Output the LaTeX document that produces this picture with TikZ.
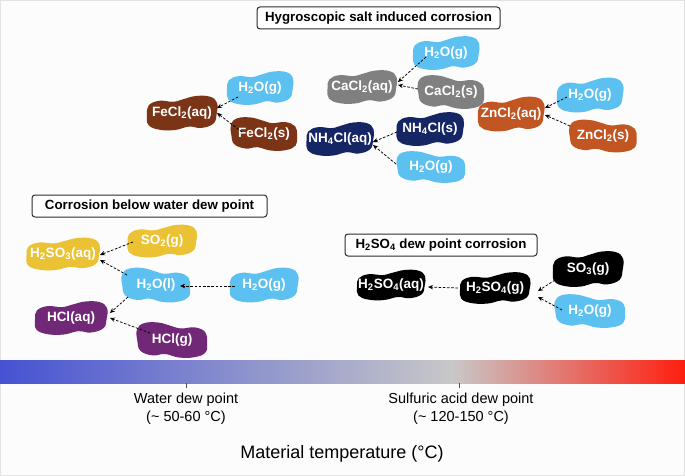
\documentclass[tikz,border=0pt]{standalone}
\usepackage{fontspec}
\setmainfont{Liberation Sans}
\usetikzlibrary{arrows.meta}
\definecolor{bgc}{RGB}{252,252,252}
\definecolor{framec}{RGB}{226,226,226}
\definecolor{cH}{RGB}{92,192,240}
\definecolor{cFe}{RGB}{124,52,22}
\definecolor{cCa}{RGB}{128,128,128}
\definecolor{cNh}{RGB}{22,38,100}
\definecolor{cZn}{RGB}{193,86,34}
\definecolor{cY}{RGB}{234,194,52}
\definecolor{cP}{RGB}{113,40,118}
\definecolor{gB}{RGB}{70,82,210}
\definecolor{gG}{RGB}{200,200,200}
\definecolor{gR}{RGB}{255,30,15}
\definecolor{boxc}{RGB}{45,45,45}
\newcommand\blobshape{plot[smooth cycle, tension=0.7] coordinates {(-1,0.1) (-0.95,-0.45) (-0.65,-0.72) (-0.25,-0.66) (0.05,-0.82) (0.4,-1.0) (0.8,-0.96) (1.0,-0.6) (0.99,0.05) (0.9,0.62) (0.55,0.88) (0.2,0.8) (-0.2,1.0) (-0.65,0.98) (-0.96,0.7)}}
\newcommand\blob[8][1]{%
  \fill[#7, shift={(#3,#4)}, xscale=#1*#5/2, yscale=#6/2] \blobshape;
  \node[blobtext, minimum width=#5, minimum height=#6] (#2) at (#3,#4) {#8};
}
\tikzset{
  blobtext/.style={text=white, font=\bfseries\fontsize{13.5}{15}\selectfont, inner sep=0pt},
  titlebox/.style={draw=boxc, line width=1pt, rounded corners=3pt, fill=white, font=\bfseries\fontsize{13.3}{15}\selectfont, inner xsep=6pt, minimum height=22},
  arr/.style={-{Stealth[length=5pt,width=4.4pt]}, dash pattern=on 2.6pt off 1.6pt, line width=0.75pt},
  ticklbl/.style={align=center, font=\fontsize{14.5}{18}\selectfont},
  axislbl/.style={font=\fontsize{18}{20}\selectfont}
}
\begin{document}
\begin{tikzpicture}[x=1pt,y=-1pt]
\useasboundingbox (0,0) rectangle (685,476);
\fill[bgc] (0,0) rectangle (685,476);
\draw[framec, line width=0.8pt] (0.5,0.5) rectangle (684.5,475.5);

% titles
\node[titlebox, minimum width=243] (t1) at (378.5,18) {Hygroscopic salt induced corrosion};
\node[titlebox, minimum width=235] (t2) at (149.5,206) {Corrosion below water dew point};
\node[titlebox, minimum width=192] (t3) at (441,245) {H\textsubscript{2}SO\textsubscript{4} dew point corrosion};

% hygroscopic salts
\blob{feaq}{182}{113}{70}{34}{cFe}{FeCl\textsubscript{2}(aq)}
\blob{h2oA}{260}{88}{66}{33}{cH}{H\textsubscript{2}O(g)}
\blob[-1]{fes}{264}{134}{66}{33}{cFe}{FeCl\textsubscript{2}(s)}
\blob{caaq}{362}{87}{69}{33}{cCa}{CaCl\textsubscript{2}(aq)}
\blob{h2oB}{446}{53}{66}{33}{cH}{H\textsubscript{2}O(g)}
\blob[-1]{cas}{451}{92}{66}{33}{cCa}{CaCl\textsubscript{2}(s)}
\blob{nhaq}{340}{139}{67}{33}{cNh}{NH\textsubscript{4}Cl(aq)}
\blob{nhs}{430}{129}{67}{33}{cNh}{NH\textsubscript{4}Cl(s)}
\blob[-1]{h2oC}{431}{167}{68}{31}{cH}{H\textsubscript{2}O(g)}
\blob{znaq}{511}{114}{66}{34}{cZn}{ZnCl\textsubscript{2}(aq)}
\blob{h2oD}{590}{95}{66}{34}{cH}{H\textsubscript{2}O(g)}
\blob[-1]{zns}{603}{136}{67}{32}{cZn}{ZnCl\textsubscript{2}(s)}

% below water dew point
\blob{h2so3}{63}{254}{73}{32}{cY}{H\textsubscript{2}SO\textsubscript{3}(aq)}
\blob{so2}{162}{241}{69}{32}{cY}{SO\textsubscript{2}(g)}
\blob[-1]{h2ol}{156}{285}{68}{34}{cH}{H\textsubscript{2}O(l)}
\blob{h2oE}{264}{285}{68}{34}{cH}{H\textsubscript{2}O(g)}
\blob{hclaq}{71}{318}{72}{33}{cP}{HCl(aq)}
\blob[-1]{hclg}{172}{340}{70}{35}{cP}{HCl(g)}

% H2SO4 dew point
\blob{h2so4aq}{391}{285}{68}{30}{black}{H\textsubscript{2}SO\textsubscript{4}(aq)}
\blob{h2so4g}{495}{288}{70}{31}{black}{H\textsubscript{2}SO\textsubscript{4}(g)}
\blob{so3}{588}{269}{70}{35}{black}{SO\textsubscript{3}(g)}
\blob[-1]{h2oF}{590}{311}{70}{33}{cH}{H\textsubscript{2}O(g)}

% connectors
\draw[arr] ([shift={(-22,9)}]h2oA.center) -- ([shift={(35,-5)}]feaq.center);
\draw[arr] ([shift={(-22,-2)}]fes.center) -- ([shift={(35,0)}]feaq.center);
\draw[arr] ([shift={(-20,4)}]h2oB.center) -- ([shift={(36,-5)}]caaq.center);
\draw[arr] ([shift={(-33,-3)}]cas.center) -- ([shift={(36,-2)}]caaq.center);
\draw[arr] ([shift={(-33,3)}]nhs.center) -- ([shift={(33,3)}]nhaq.center);
\draw[arr] ([shift={(-35,-3)}]h2oC.center) -- ([shift={(33,6)}]nhaq.center);
\draw[arr] ([shift={(-23,2)}]h2oD.center) -- ([shift={(34,-6)}]znaq.center);
\draw[arr] ([shift={(-33,-10)}]zns.center) -- ([shift={(34,1)}]znaq.center);

\draw[arr] ([shift={(-29,1)}]so2.center) -- ([shift={(37,1)}]h2so3.center);
\draw[arr] ([shift={(-29,-10)}]h2ol.center) -- ([shift={(37,6)}]h2so3.center);
\draw[arr] ([shift={(-29,1)}]h2oE.center) -- ([shift={(24,1)}]h2ol.center);
\draw[arr] ([shift={(-28,12)}]h2ol.center) -- ([shift={(39,-5)}]hclaq.center);
\draw[arr] ([shift={(-22,-7)}]hclg.center) -- ([shift={(39,0)}]hclaq.center);

\draw[arr] ([shift={(-37,0)}]h2so4g.center) -- ([shift={(37,2)}]h2so4aq.center);
\draw[arr] ([shift={(-33,11)}]so3.center) -- ([shift={(43,3)}]h2so4g.center);
\draw[arr] ([shift={(-28,-1)}]h2oF.center) -- ([shift={(43,9)}]h2so4g.center);

% temperature bar
\shade[left color=gB, right color=gG] (0,360) rectangle (452.5,383);
\shade[left color=gG, right color=gR] (452,360) rectangle (685,383);
\draw[line width=0.8pt, black!70] (186,383) -- (186,388);
\draw[line width=0.8pt, black!70] (459,383) -- (459,388);
\node[ticklbl] (wdp) at (186,409) {Water dew point\\(\textasciitilde{} 50-60 °C)};
\node[ticklbl] (sdp) at (461,409) {Sulfuric acid dew point\\(\textasciitilde{} 120-150 °C)};
\node[axislbl] (mt) at (342,454) {Material temperature (°C)};
\end{tikzpicture}
\end{document}
